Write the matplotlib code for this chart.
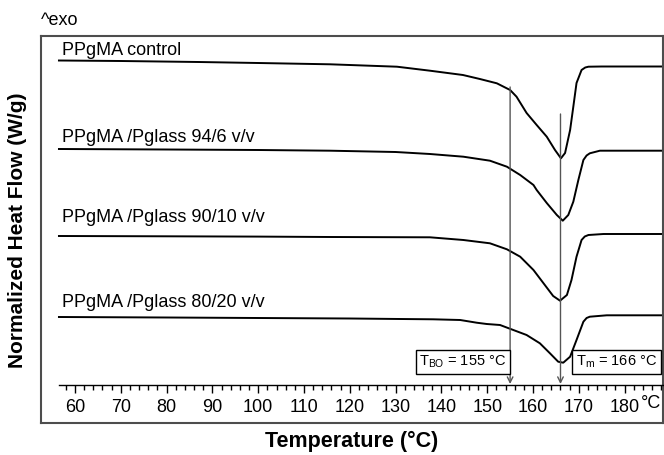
import numpy as np
import matplotlib.pyplot as plt

plt.rcParams['font.family'] = ['Liberation Sans', 'DejaVu Sans']
plt.rcParams['mathtext.fontset'] = 'custom'
plt.rcParams['mathtext.rm'] = 'Liberation Sans'

# DSC traces, temperature (°C) vs heat flow (arbitrary offset units, exo up)
t_ctrl = [56.5, 70, 87, 100, 115.7, 130.3, 137.5, 144.7, 148.4, 152.1, 155, 156.4, 158.6,
          160.8, 163, 164.8, 166.1, 167, 168.1, 168.8, 169.5, 170.6, 171.4, 172.1, 175, 188.4]
hf_ctrl = [362.5, 362, 361, 360, 358.7, 356.3, 352.3, 348, 344, 339.7, 333, 326.3, 310,
           298, 286.3, 273, 264.7, 270, 293, 316.3, 340, 353, 355.5, 356.3, 356.5, 356.5]

t_94 = [56.5, 80, 100, 115.7, 130, 137.5, 144.8, 150.6, 154.3, 157.2, 160.1, 160.8, 163, 165.2,
        166.5, 167.7, 168.8, 169.9, 171, 171.7, 172.4, 174.6, 188.4]
hf_94 = [274, 273.5, 273, 272.3, 271, 269, 266.3, 262.3, 256.3, 248, 238, 233, 220, 208,
         202.3, 208, 221.3, 243, 263, 267.5, 269.7, 272.3, 272.3]

t_90 = [56.5, 80, 100, 115.7, 130, 137.5, 144.8, 150.6, 154.3, 157.2, 160.1, 162.3, 164.4, 165.9,
        167.4, 168.4, 169.5, 170.6, 171.3, 172.1, 175.4, 188.4]
hf_90 = [187, 186.7, 186.4, 186, 185.8, 185.7, 183, 179.7, 173.7, 166.3, 153, 139.7, 127, 122.3,
         128, 143, 166.3, 183, 186.5, 188, 189, 189]

t_80 = [56.5, 80, 100, 120, 131, 138.2, 144.1, 147.7, 149.9, 152.8, 155.7, 158.6, 161.5,
        163.7, 165.5, 166.6, 168.1, 169.5, 171, 171.7, 172.4, 176.1, 188.4]
hf_80 = [106, 105.5, 105, 104.5, 104, 103.7, 103, 100.3, 99, 98, 93, 88, 79.7,
         69.7, 61.3, 60.3, 66.3, 83, 101.3, 105, 106.3, 107.7, 107.7]

labels = ['PPgMA control', 'PPgMA /Pglass 94/6 v/v',
          'PPgMA /Pglass 90/10 v/v', 'PPgMA /Pglass 80/20 v/v']
label_y = [368, 281.3, 201.3, 116.3]

t_bo = 155
t_m = 166
xticks = list(range(60, 190, 10))

fig = plt.figure(figsize=(6.64, 4.55), dpi=100)
ax = fig.add_axes([41 / 664, 32 / 455, 622 / 664, 387 / 455])
ax.set_xlim(52.58, 188.38)
ax.set_ylim(0, 387)

for t, hf in [(t_ctrl, hf_ctrl), (t_94, hf_94), (t_90, hf_90), (t_80, hf_80)]:
    ax.plot(t, hf, color='black', lw=1.4, solid_joinstyle='round')

for lab, y in zip(labels, label_y):
    ax.text(57.2, y, lab, fontsize=13, va='baseline', ha='left')

# onset / melting markers
ax.annotate('', xy=(t_bo, 39), xytext=(t_bo, 336),
            arrowprops=dict(arrowstyle='->', color='#555555', lw=1, mutation_scale=10,
                            shrinkA=0, shrinkB=0))
ax.annotate('', xy=(t_m, 39), xytext=(t_m, 309),
            arrowprops=dict(arrowstyle='->', color='#555555', lw=1, mutation_scale=10,
                            shrinkA=0, shrinkB=0))

box = dict(boxstyle='square,pad=0.25', fc='white', ec='black', lw=1)
ax.text(144.7, 61, r'T$_{\mathrm{BO}}$ = %d °C' % t_bo, fontsize=10.5,
        ha='center', va='center', bbox=box)
ax.text(178.2, 61, r'T$_{\mathrm{m}}$ = %d °C' % t_m, fontsize=10.5,
        ha='center', va='center', bbox=box)

# frame
for s in ['top', 'left', 'right']:
    ax.spines[s].set_color('#4d4d4d')
    ax.spines[s].set_linewidth(1.5)
ax.plot([0, 1], [0, 0], transform=ax.transAxes, color='#4d4d4d', lw=1.5, clip_on=False)

# inner temperature axis
ax.spines['bottom'].set_position(('data', 38))
ax.spines['bottom'].set_bounds(56.5, 188.38)
ax.spines['bottom'].set_linewidth(1)
ax.set_xticks(xticks)
ax.set_xticks(np.arange(58, 189, 2), minor=True)
ax.tick_params(axis='x', which='major', direction='out', length=6, width=1, labelsize=13, pad=4)
ax.tick_params(axis='x', which='minor', direction='out', length=3.5, width=1)
ax.set_yticks([])
ax.text(183.5, 19.5, '°C', fontsize=13, ha='left', va='center')

fig.text(18 / 664, 1 - 230 / 455, 'Normalized Heat Flow (W/g)', rotation=90,
         fontsize=15, fontweight='bold', ha='center', va='center')
fig.text(352 / 664, 1 - 441 / 455, 'Temperature (°C)', fontsize=15.5,
         fontweight='bold', ha='center', va='center')
fig.text(41 / 664, 1 - 25 / 455, '^exo', fontsize=13, va='baseline', ha='left')

fig.savefig('out.png', dpi=100)
